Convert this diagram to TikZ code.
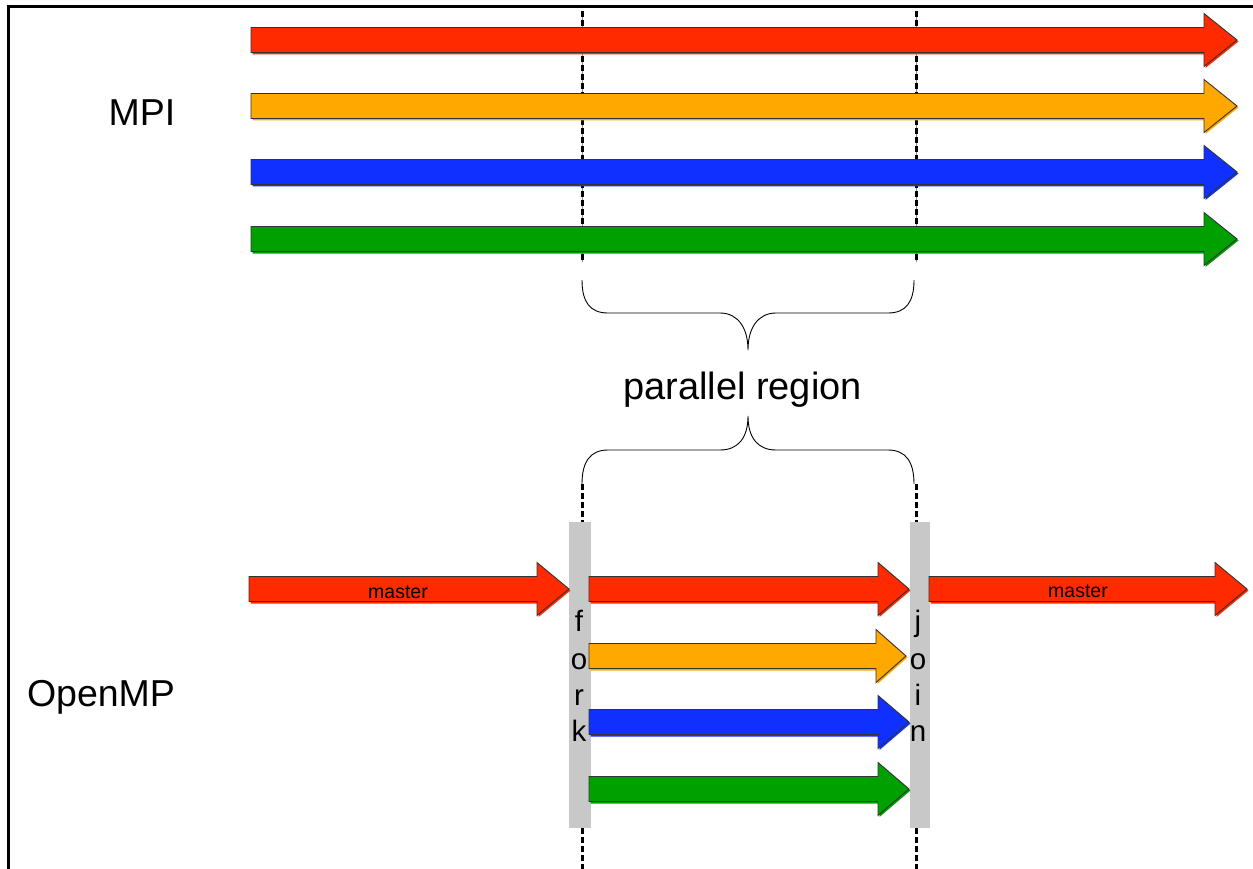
\documentclass[tikz,border=0pt]{standalone}
\usepackage{fontspec}
\setmainfont{Liberation Sans}
\definecolor{arrred}{RGB}{255,42,0}
\definecolor{arrorange}{RGB}{255,168,0}
\definecolor{arrblue}{RGB}{16,48,255}
\definecolor{arrgreen}{RGB}{0,160,0}
\definecolor{bargray}{RGB}{200,200,200}
% fat block arrow: colour, start x, head base x, tip x, centre y
\newcommand{\blockarrow}[5]{%
  \fill[#1] (#2+1.5,#5-11) -- (#3+1.5,#5-11) -- (#3+1.5,#5-25) -- (#4+1.5,#5+1.5)
    -- (#3+1.5,#5+28) -- (#3+1.5,#5+14.5) -- (#2+1.5,#5+14.5) -- cycle;
  \filldraw[fill=#1, draw=black!80, line width=0.9pt, line join=miter]
    (#2,#5-12.5) -- (#3,#5-12.5) -- (#3,#5-26.5) -- (#4,#5)
    -- (#3,#5+26.5) -- (#3,#5+12.5) -- (#2,#5+12.5) -- cycle;
}
\tikzset{
  bigtext/.style={font=\fontsize{37.5}{45}\selectfont, inner sep=0pt},
  regiontext/.style={font=\fontsize{38}{45}\selectfont, inner sep=0pt},
  barletter/.style={font=\fontsize{29.5}{35}\selectfont, inner sep=0pt, anchor=base},
  smalltext/.style={font=\fontsize{19.5}{23}\selectfont, inner sep=0pt, anchor=base},
  syncline/.style={draw=black, line width=3pt, dash pattern=on 6pt off 3pt},
  syncthin/.style={draw=black!45, line width=1pt},
  bracepath/.style={draw=black, line width=0.9pt},
  barbox/.style={fill=bargray, draw=none},
}
\begin{document}
\begin{tikzpicture}[x=1pt, y=-1pt]
\useasboundingbox (0,0) rectangle (1253,869);
\fill[white] (0,0) rectangle (1253,869);

% frame
\draw[line width=3pt] (8,869) -- (8,7) -- (1253,7);

% synchronisation lines
\coordinate (mpiForkTop) at (582,11);
\coordinate (mpiForkBot) at (582,262);
\coordinate (mpiJoinTop) at (916,11);
\coordinate (mpiJoinBot) at (916,262);
\draw[syncthin] (mpiForkTop) -- (mpiForkBot);
\draw[syncthin] (mpiJoinTop) -- (mpiJoinBot);
\draw[syncline] (mpiForkTop) -- (mpiForkBot);
\draw[syncline] (mpiJoinTop) -- (mpiJoinBot);

\coordinate (ompForkA) at (582,484);
\coordinate (ompForkB) at (582,522);
\coordinate (ompForkC) at (582,828);
\coordinate (ompForkD) at (582,869);
\coordinate (ompJoinA) at (916,484);
\coordinate (ompJoinB) at (916,522);
\coordinate (ompJoinC) at (916,828);
\coordinate (ompJoinD) at (916,869);
\draw[syncline] (ompForkA) -- (ompForkB);
\draw[syncline] (ompForkC) -- (ompForkD);
\draw[syncline] (ompJoinA) -- (ompJoinB);
\draw[syncline] (ompJoinC) -- (ompJoinD);

% MPI processes
\blockarrow{arrred}{251}{1204}{1237}{40}
\blockarrow{arrorange}{251}{1204}{1237}{106}
\blockarrow{arrblue}{251}{1204}{1237}{172}
\blockarrow{arrgreen}{251}{1204}{1237}{239}

\node[bigtext, anchor=base] (mpi) at (142,126) {MPI};

% braces around the parallel region
\draw[bracepath] (582,280) .. controls (582,302) and (590,313) .. (608,313)
  -- (720,313) .. controls (738,313) and (748,328) .. (748,350)
  .. controls (748,328) and (758,313) .. (776,313)
  -- (888,313) .. controls (906,313) and (914,302) .. (914,280);
\node[regiontext, anchor=base] (region) at (742.5,399) {parallel region};
\draw[bracepath] (582,484) .. controls (582,462) and (590,450) .. (608,450)
  -- (720,450) .. controls (738,450) and (748,438) .. (748,416)
  .. controls (748,438) and (758,450) .. (776,450)
  -- (888,450) .. controls (906,450) and (914,462) .. (914,484);

% fork / join bars
\path[barbox] (569,522) rectangle (591,828);
\path[barbox] (910,522) rectangle (930,828);
\foreach \ch/\yy [count=\i] in {f/631,o/669,r/705,k/741}
  \node[barletter] (fork\i) at (579,\yy) {\ch};
\foreach \ch/\yy [count=\i] in {j/631,o/669,i/705,n/741}
  \node[barletter] (join\i) at (918,\yy) {\ch};

% OpenMP threads
\blockarrow{arrred}{249}{537}{569}{589}
\node[smalltext] (masterA) at (398,598) {master};
\blockarrow{arrred}{589}{878}{909}{589}
\blockarrow{arrorange}{589}{876}{906}{656}
\blockarrow{arrblue}{589}{878}{909}{722}
\blockarrow{arrgreen}{589}{878}{909}{789}
\blockarrow{arrred}{929}{1215}{1247}{589}
\node[smalltext] (masterB) at (1078,597) {master};

\node[bigtext, anchor=base] (openmp) at (101,706) {OpenMP};
\end{tikzpicture}
\end{document}
